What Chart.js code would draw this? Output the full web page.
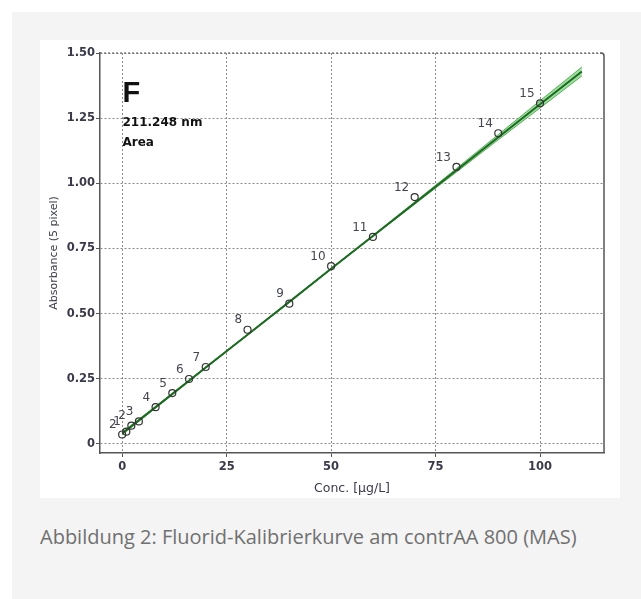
<!DOCTYPE html>
<html><head><meta charset="utf-8">
<script src="https://cdn.jsdelivr.net/npm/chart.js@4.4.0/dist/chart.umd.min.js"></script>
<style>
html,body{margin:0;padding:0;background:#fff;width:641px;height:599px;overflow:hidden;}
#box{position:absolute;left:12px;top:12px;width:629px;height:587px;background:#f4f4f4;}
#wrap{position:absolute;left:40px;top:40px;width:580px;height:458px;background:#fff;}
#cap{position:absolute;left:40px;top:525px;font-family:"Open Sans";font-size:20px;line-height:24px;color:#707070;white-space:nowrap;}
</style></head>
<body>
<div id="box"></div>
<div id="wrap"><canvas id="c" width="580" height="458" style="width:580px;height:458px"></canvas></div>
<div id="cap">Abbildung 2: Fluorid-Kalibrierkurve am contrAA 800 (MAS)</div>
<script>
// ---- data ----
const conc = [0, 1, 2.2, 4, 8, 12, 16, 20, 30, 40, 50, 60, 70, 80, 90, 100];
const absorbance = [0.036, 0.047, 0.070, 0.086, 0.141, 0.195, 0.249, 0.295, 0.438, 0.538, 0.682, 0.794, 0.947, 1.063, 1.192, 1.307];
const pointLabels = ["2", "1", "2", "3", "4", "5", "6", "7", "8", "9", "10", "11", "12", "13", "14", "15"];
const fitX = [0, 10, 20, 30, 40, 50, 60, 70, 80, 90, 100, 110];
const fitY = [0.040, 0.166, 0.293, 0.419, 0.545, 0.672, 0.798, 0.924, 1.050, 1.177, 1.303, 1.429];
const bandUpper = [0.045, 0.169, 0.2955, 0.421, 0.547, 0.674, 0.8005, 0.928, 1.057, 1.187, 1.317, 1.446];
const bandLower = [0.035, 0.163, 0.2905, 0.417, 0.543, 0.670, 0.7955, 0.920, 1.043, 1.167, 1.289, 1.412];
const xTicks = [0, 25, 50, 75, 100];
const xTickLabels = ["0", "25", "50", "75", "100"];
const yTicks = [0, 0.25, 0.5, 0.75, 1.0, 1.25, 1.5];
const yTickLabels = ["0", "0.25", "0.50", "0.75", "1.00", "1.25", "1.50"];
const xTitle = "Conc. [µg/L]";
const yTitle = "Absorbance (5 pixel)";
const elementText = "F";
const infoLines = ["211.248 nm", "Area"];

const pts = (xs, ys) => xs.map((x, i) => ({x: x, y: ys[i]}));

const annot = {
  id: 'annot',
  afterDatasetsDraw(chart) {
    const ctx = chart.ctx, a = chart.chartArea;
    const meta = chart.getDatasetMeta(0);
    ctx.save();
    ctx.font = '12px "DejaVu Sans"';
    ctx.fillStyle = '#454550';
    ctx.textAlign = 'right';
    ctx.textBaseline = 'middle';
    meta.data.forEach((el, i) => { ctx.fillText(pointLabels[i], el.x - 5.5, el.y - 9.5); });
    // right border with rounded corner
    ctx.strokeStyle = '#555';
    ctx.lineWidth = 1.5;
    ctx.setLineDash([]);
    ctx.beginPath();
    ctx.moveTo(a.right - 4, a.top);
    ctx.arcTo(a.right, a.top, a.right, a.top + 4, 3);
    ctx.lineTo(a.right, a.bottom);
    ctx.stroke();
    // top border dotted
    ctx.strokeStyle = '#555';
    ctx.lineWidth = 1.2;
    ctx.setLineDash([2, 2]);
    ctx.beginPath();
    ctx.moveTo(a.left, a.top);
    ctx.lineTo(a.right - 4, a.top);
    ctx.stroke();
    ctx.setLineDash([]);
    // annotation text
    ctx.textAlign = 'left';
    ctx.textBaseline = 'alphabetic';
    ctx.fillStyle = '#111';
    ctx.font = 'bold 29px "Liberation Sans"';
    ctx.fillText(elementText, a.left + 22.5, a.top + 48.5);
    ctx.font = 'bold 12px "DejaVu Sans"';
    ctx.fillText(infoLines[0], a.left + 22.5, a.top + 72.5);
    ctx.fillText(infoLines[1], a.left + 22.5, a.top + 93);
    ctx.restore();
  }
};

new Chart(document.getElementById('c'), {
  type: 'scatter',
  data: {
    datasets: [
      { data: pts(conc, absorbance), showLine: false, pointRadius: 3.5, pointHoverRadius: 3.5,
        pointBorderColor: '#333', pointBackgroundColor: 'rgba(255,255,255,0)', pointBorderWidth: 1.2, order: 0 },
      { data: pts(fitX, bandLower), showLine: true, pointRadius: 0, borderColor: '#55b055', borderWidth: 1, fill: false, order: 2 },
      { data: pts(fitX, bandUpper), showLine: true, pointRadius: 0, borderColor: '#55b055', borderWidth: 1, fill: false, order: 2 },
      { data: pts(fitX, fitY), showLine: true, pointRadius: 0, borderColor: '#1e6a24', borderWidth: 2, fill: false, order: 1 },
      { data: pts(fitX, bandUpper), showLine: true, pointRadius: 0, borderColor: 'rgba(0,0,0,0)', borderWidth: 0,
        backgroundColor: 'rgba(125,210,125,0.75)', fill: 1, order: 3 }
    ]
  },
  options: {
    responsive: false,
    animation: false,
    devicePixelRatio: 1,
    layout: { padding: { left: 0, right: 16, top: 13, bottom: 0 } },
    plugins: { legend: { display: false }, tooltip: { enabled: false } },
    scales: {
      x: {
        type: 'linear', min: -5.3, max: 115.3,
        afterBuildTicks: s => { s.ticks = xTicks.map(v => ({value: v})); },
        afterFit: s => { s.height = 45; },
        ticks: { callback: v => xTickLabels[xTicks.indexOf(v)], font: { family: 'DejaVu Sans', size: 11.5, weight: 'bold' }, color: '#3a3a4a', padding: 3, maxRotation: 0 },
        grid: { color: '#8a8a8a', lineWidth: 1, tickLength: 4, tickColor: '#555', tickWidth: 1, tickBorderDash: [] },
        border: { display: true, color: '#555', width: 1.5, dash: [2, 2] },
        title: { display: true, text: xTitle, font: { family: 'DejaVu Sans', size: 12.5 }, color: '#3a3a4a', padding: { top: 0, bottom: 2 } }
      },
      y: {
        type: 'linear', min: -0.035, max: 1.5,
        afterBuildTicks: s => { s.ticks = yTicks.map(v => ({value: v})); },
        afterFit: s => { s.width = 60; },
        ticks: { callback: v => yTickLabels[yTicks.indexOf(v)], font: { family: 'DejaVu Sans', size: 11.5, weight: 'bold' }, color: '#3a3a4a', padding: 1 },
        grid: { color: '#8a8a8a', lineWidth: 1, tickLength: 4, tickColor: '#555', tickWidth: 1, tickBorderDash: [] },
        border: { display: true, color: '#555', width: 1.5, dash: [2, 2] },
        title: { display: true, text: yTitle, font: { family: 'DejaVu Sans', size: 11 }, color: '#3a3a4a', padding: { top: 8, bottom: 0 } }
      }
    }
  },
  plugins: [annot]
});
</script>
</body></html>
